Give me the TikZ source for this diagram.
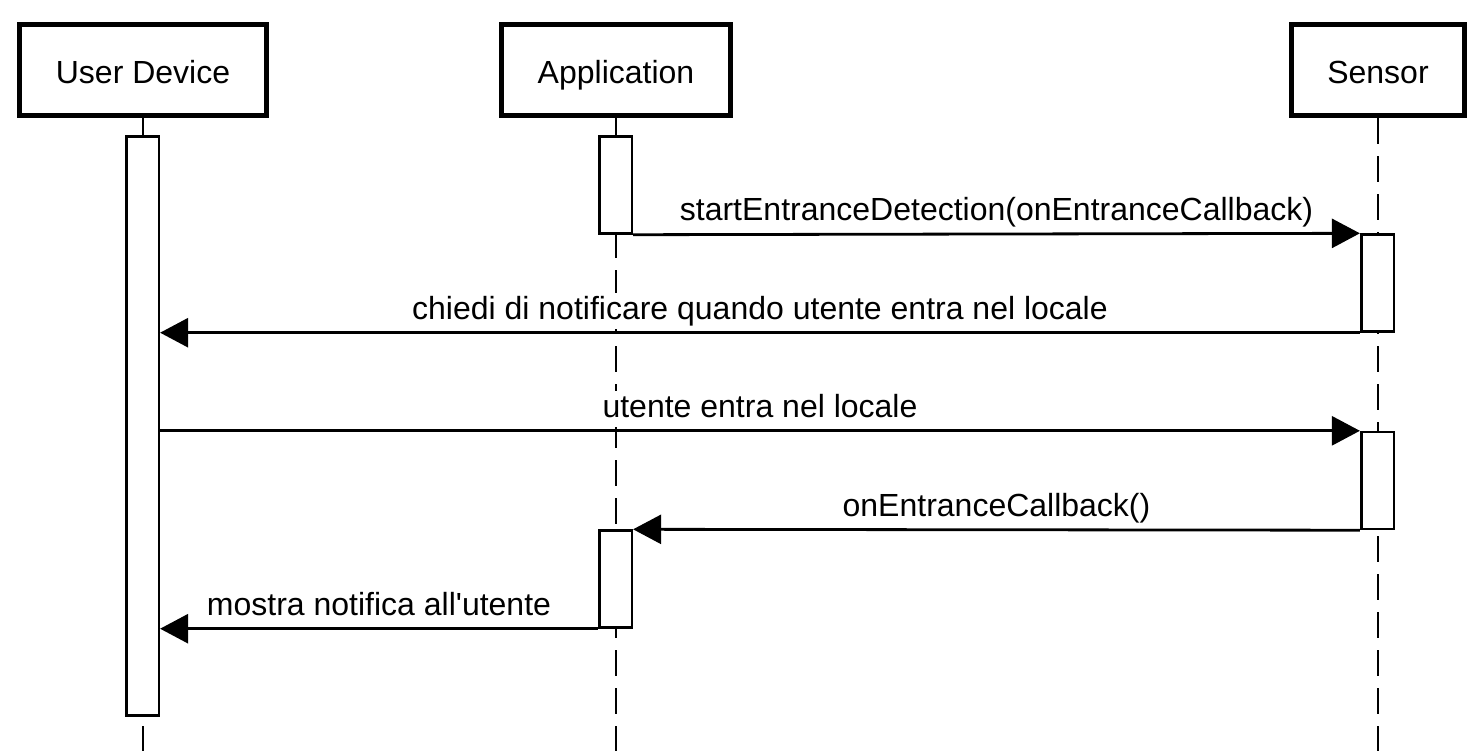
\documentclass[tikz,border=0pt]{standalone}
\usepackage{fontspec}
\setmainfont{Liberation Sans}
\usetikzlibrary{arrows.meta}

\begin{document}
\begin{tikzpicture}[x=0.5pt,y=-0.5pt,
    every node/.style={font=\fontsize{16pt}{19pt}\selectfont},
    actor/.style={draw,line width=2.5pt,minimum height=45.5pt,inner sep=0pt,text height=13pt,text depth=0pt},
    activation/.style={draw,fill=white,line width=1.3pt,minimum width=16.3pt,inner sep=0pt},
    lifeline/.style={line width=1.3pt,dash pattern=on 13pt off 6pt},
    label/.style={above=1pt,fill=white,inner sep=1pt,text height=12pt,text depth=4pt},
    msg/.style={line width=1.4pt,-{Triangle[length=14pt,width=14.5pt]}}]
      \useasboundingbox (0,0) rectangle (1484,751);
      \coordinate (bottom) at (0,751);
      \draw
        (143,70) node[actor,minimum width=123.5pt] (user) {User Device}
        (616,70) node[actor,minimum width=114.5pt] (app) {Application}
        (1378,70) node[actor,minimum width=86.5pt] (sensor) {Sensor};
      \draw[lifeline]
        (user.south) -- (user.south |- bottom)
        (app.south) -- (app.south |- bottom)
        (sensor.south) -- (sensor.south |- bottom);
      \draw
        (142.5,426) node[activation,minimum height=289.4pt] (userA) {}
        (615.5,185) node[activation,minimum height=48.4pt] (appA) {}
        (1377.5,283) node[activation,minimum height=48.4pt] (sensorA) {}
        (1377.5,480.5) node[activation,minimum height=48.4pt] (sensorB) {}
        (615.5,579) node[activation,minimum height=48.4pt] (appB) {};
      \draw[msg] (appA.south east) -- node[label] {startEntranceDetection(onEntranceCallback)} (sensorA.north west);
      \draw[msg] (sensorA.south west) -- node[label] {chiedi di notificare quando utente entra nel locale} (sensorA.south west -| userA.east);
      \draw[msg] (sensorB.north west -| userA.east) -- node[label] {utente entra nel locale} (sensorB.north west);
      \draw[msg] (sensorB.south west) -- node[label] {onEntranceCallback()} (appB.north east);
      \draw[msg] (appB.south west) -- node[label] {mostra notifica all\textquotesingle utente} (appB.south west -| userA.east);
    \end{tikzpicture}
\end{document}
